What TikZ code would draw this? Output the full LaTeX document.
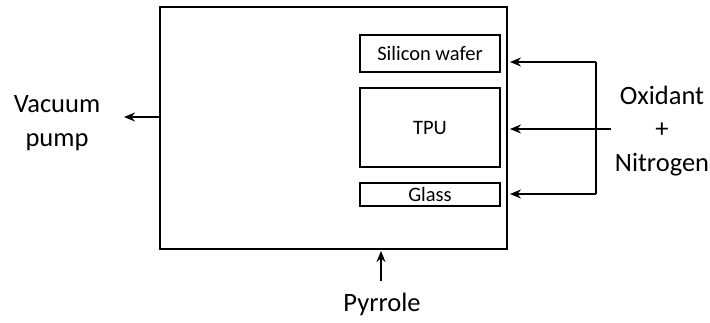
\documentclass[tikz,border=0pt]{standalone}
\usepackage{fontspec}
\setmainfont{Carlito}
\usetikzlibrary{arrows.meta, positioning, calc}

\begin{document}
\begin{tikzpicture}[
    x=1pt, y=-1pt,
    chamber/.style={rectangle, draw, line width=2pt, minimum width=347pt, minimum height=242pt, inner sep=0pt},
    sample/.style={rectangle, draw, line width=1.8pt, minimum width=140pt, inner sep=0pt, font=\fontsize{20.5}{24}\selectfont},
    label/.style={align=center, font=\fontsize{26.5}{33.5}\selectfont},
    arrow/.style={-{Stealth[length=11pt, width=9pt]}, line width=1.8pt},
]
\useasboundingbox (0,0) rectangle (710,322);

% reactor
\node[chamber] (chamber) at (333.5,128) {};

% samples
\node[sample, minimum height=37pt] (wafer) at (430,53.5) {Silicon wafer};
\node[sample, minimum height=79pt] (tpu) at (430,127.5) {TPU};
\node[sample, minimum height=23pt] (glass) at (430,194.5) {Glass};

% gas inlet
\node[label] (oxidant) at (662,131) {Oxidant\\+\\Nitrogen};
\coordinate (bus top) at (596,62);
\coordinate (bus bot) at (596,194);
\coordinate (feed) at (611,129);
\draw[line width=1.8pt] (bus top) -- (bus bot);
\draw[arrow, shorten >=2pt] (bus top) -- (chamber.east |- bus top);
\draw[arrow, shorten >=2pt] (feed) -- (chamber.east |- feed);
\draw[arrow, shorten >=2pt] (bus bot) -- (chamber.east |- bus bot);

% vacuum
\node[label] (vacuum) at (57,123) {Vacuum\\pump};
\coordinate (vac end) at (124,117);
\draw[arrow] (chamber.west |- vac end) -- (vac end);

% pyrrole
\node[label] (pyrrole) at (382,304) {Pyrrole};
\coordinate (pyr start) at (381,281);
\draw[arrow, shorten >=1pt] (pyr start) -- (chamber.south -| pyr start);

\end{tikzpicture}
\end{document}
